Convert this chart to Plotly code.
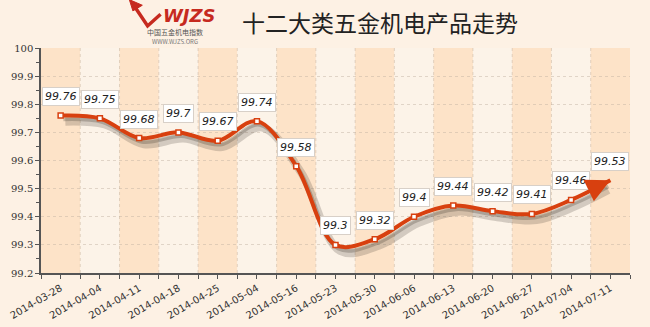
import plotly.graph_objects as go

dates = ["2014-03-28", "2014-04-04", "2014-04-11", "2014-04-18", "2014-04-25",
         "2014-05-04", "2014-05-16", "2014-05-23", "2014-05-30", "2014-06-06",
         "2014-06-13", "2014-06-20", "2014-06-27", "2014-07-04", "2014-07-11"]
values = [99.76, 99.75, 99.68, 99.7, 99.67, 99.74, 99.58, 99.3, 99.32, 99.4,
          99.44, 99.42, 99.41, 99.46, 99.53]
value_labels = ["99.76", "99.75", "99.68", "99.7", "99.67", "99.74", "99.58", "99.3",
                "99.32", "99.4", "99.44", "99.42", "99.41", "99.46", "99.53"]
y_ticks = [99.2, 99.3, 99.4, 99.5, 99.6, 99.7, 99.8, 99.9, 100]

LINE = "#D8400F"
n = len(values)
xs = list(range(n))

fig = go.Figure()

# shadow
fig.add_trace(go.Scatter(
    x=[x + 0.12 for x in xs[:-1]] + [xs[-1] - 0.05], y=[v - 0.022 for v in values[:-1]] + [values[-1] - 0.035],
    mode="lines", line=dict(color="rgba(70,60,50,0.22)", width=8, shape="spline", smoothing=1.0),
    hoverinfo="skip", showlegend=False))
fig.add_trace(go.Scatter(
    x=[x + 0.07 for x in xs[:-1]] + [xs[-1] - 0.05], y=[v - 0.013 for v in values[:-1]] + [values[-1] - 0.022],
    mode="lines", line=dict(color="rgba(70,60,50,0.28)", width=4, shape="spline", smoothing=1.0),
    hoverinfo="skip", showlegend=False))

# main line
fig.add_trace(go.Scatter(
    x=xs, y=values, mode="lines",
    line=dict(color=LINE, width=4, shape="spline", smoothing=1.0),
    hoverinfo="skip", showlegend=False))
fig.add_trace(go.Scatter(
    x=xs[:-1], y=values[:-1], mode="markers",
    marker=dict(symbol="square", size=5, color="white", line=dict(color=LINE, width=1.5)),
    showlegend=False))

shapes = []
for i in range(n):
    shapes.append(dict(type="rect", xref="x", yref="y domain", x0=i - 0.5, x1=i + 0.5,
                       y0=0, y1=1, fillcolor="#FDE3C8" if i % 2 == 0 else "#FCF3E8",
                       line=dict(width=0), layer="below"))
    if i > 0:
        shapes.append(dict(type="line", xref="x", yref="y domain", x0=i - 0.5, x1=i - 0.5,
                           y0=0, y1=1, line=dict(color="rgba(200,180,160,0.5)", width=1, dash="dot"),
                           layer="below"))

# logo swoosh
shapes.append(dict(type="path", xref="paper", yref="paper",
                   path="M 0.160 1.180 L 0.181 1.098 L 0.203 1.150", line=dict(color="#C62A1F", width=3.5)))
shapes.append(dict(type="path", xref="paper", yref="paper",
                   path="M 0.150 1.215 L 0.172 1.190 L 0.156 1.165 Z",
                   fillcolor="#C62A1F", line=dict(color="#C62A1F", width=1)))

annotations = []
for i, (v, t) in enumerate(zip(values, value_labels)):
    annotations.append(dict(x=i, y=v, text="<i>" + t + "</i>", showarrow=False, yshift=19,
                            font=dict(family="DejaVu Sans", size=11, color="#222"),
                            bgcolor="white", bordercolor="#d8d0c8", borderwidth=1, borderpad=2))
# arrow head at the end
annotations.append(dict(x=xs[-1], y=values[-1], ax=xs[-1] - 0.45, ay=values[-1] - 0.03,
                        xref="x", yref="y", axref="x", ayref="y", text="", showarrow=True,
                        arrowhead=2, arrowsize=1.2, arrowwidth=4, arrowcolor=LINE, standoff=0))

# title and logo text
annotations += [
    dict(x=0.576, y=1.115, xref="paper", yref="paper", text="十二大类五金机电产品走势", showarrow=False,
         font=dict(family="Noto Sans CJK SC", size=23, color="#222"), xanchor="center", yanchor="middle"),
    dict(x=0.252, y=1.145, xref="paper", yref="paper", text="<b><i>WJZS</i></b>", showarrow=False,
         font=dict(family="DejaVu Sans", size=18, color="#C62A1F"), xanchor="center", yanchor="middle"),
    dict(x=0.228, y=1.050, xref="paper", yref="paper",
         text="中国五金机电指数<br><span style='font-size:6px;color:#777'>WWW.WJZS.ORG</span>",
         showarrow=False, font=dict(family="Noto Sans CJK SC", size=7, color="#555"),
         xanchor="center", yanchor="middle"),
]

fig.update_layout(
    width=650, height=327,
    margin=dict(l=41, r=20, t=48, b=54),
    paper_bgcolor="#FDF1E4", plot_bgcolor="#FDF1E4",
    shapes=shapes, annotations=annotations,
    xaxis=dict(range=[-0.5, n - 0.5], tickvals=xs, ticktext=dates, tickangle=-30, automargin=False,
               showgrid=False, zeroline=False, showline=True, linecolor="#555", linewidth=1.5,
               ticks="outside", ticklen=4, tickcolor="#555",
               minor=dict(tickvals=[i - 0.5 for i in range(n + 1)], ticks="outside", ticklen=4, tickcolor="#555"),
               tickfont=dict(family="DejaVu Sans", size=10, color="#333")),
    yaxis=dict(range=[99.2, 100], tickvals=y_ticks, ticktext=[str(t) for t in y_ticks], automargin=False,
               showgrid=True, gridcolor="rgba(190,175,160,0.45)", griddash="dot", zeroline=False,
               showline=True, linecolor="#555", linewidth=1.5,
               ticks="outside", ticklen=4, tickcolor="#555",
               minor=dict(dtick=0.05, ticks="outside", ticklen=3, tickcolor="#555", showgrid=False),
               tickfont=dict(family="DejaVu Serif", size=10, color="#333")),
    showlegend=False,
)

fig.write_html("out.html")
